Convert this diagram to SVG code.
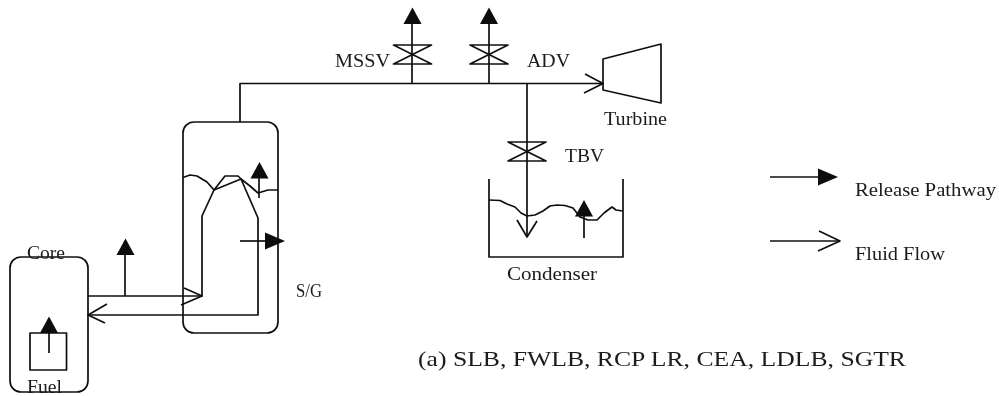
<svg xmlns="http://www.w3.org/2000/svg" width="999" height="396" viewBox="0 0 999 396">
<style>
.l{fill:none;stroke:#111;stroke-width:1.7;stroke-linejoin:round}
.h{fill:#0a0a0a;stroke:none}
text{font-family:"Liberation Serif","Times New Roman",serif;font-size:18px;fill:#1a1a1a}
</style>
<defs>
<filter id="soft" filterUnits="userSpaceOnUse" x="0" y="0" width="999" height="396"><feGaussianBlur stdDeviation="0.4"/></filter>
<path id="valve" class="l" d="M-19,-9.500H19L-19,9.500H19Z"/>
<path id="up" class="h" d="M0,-8.500 L9,8 H-9Z"/>
</defs>
<rect width="999" height="396" fill="#fff"/>
<g filter="url(#soft)">
<g id="connectors">
<path class="l" d="M240,122V83.500H603"/>
<path class="l" d="M585,74L603,83.500L584,93"/>
<path class="l" d="M412,84V24"/><use href="#up" x="412.500" y="16"/>
<path class="l" d="M489,84V24"/><use href="#up" x="489" y="16"/>
<path class="l" d="M527,84V237"/>
<path class="l" d="M517,220L527,237L537,221"/>
<path class="l" d="M88,296H202V216L214,190L225,176H238L241,179L258,218V315H88"/>
<path class="l" d="M184,288L202,296L181,305"/>
<path class="l" d="M107,304L88,315L105,323"/>
<path class="l" d="M125,296V255"/><use href="#up" x="125.500" y="247"/>
</g>
<g id="reactor-core">
<rect class="l" x="10" y="257" width="78" height="135" rx="11"/>
<rect class="l" x="30" y="333" width="36.500" height="37"/>
<path class="l" d="M49,353V333"/><use href="#up" x="49" y="325"/>
<text x="27" y="259" textLength="38" lengthAdjust="spacingAndGlyphs">Core</text>
<text x="27" y="393" textLength="35" lengthAdjust="spacingAndGlyphs">Fuel</text>
</g>
<g id="steam-generator">
<rect class="l" x="183" y="122" width="95" height="211" rx="11"/>
<path class="l" d="M183,177.500L190,175L197,176L207,182L214,190L241,179L250,186L258,193L268,190L278,190"/>
<path class="l" d="M259,198V178"/><use href="#up" x="259.500" y="170.500"/>
<path class="l" d="M240,241H266"/><path class="h" d="M265,232.500L285,241L265,249.500Z"/>
<text x="296" y="297" textLength="26" lengthAdjust="spacingAndGlyphs">S/G</text>
</g>
<g id="mssv"><use href="#valve" x="412.500" y="54.500"/><text x="335" y="67" textLength="55" lengthAdjust="spacingAndGlyphs">MSSV</text></g>
<g id="adv"><use href="#valve" x="489" y="54.500"/><text x="527" y="67" textLength="43" lengthAdjust="spacingAndGlyphs">ADV</text></g>
<g id="tbv"><use href="#valve" x="527" y="151.500"/><text x="565" y="162" textLength="39" lengthAdjust="spacingAndGlyphs">TBV</text></g>
<g id="turbine">
<path class="l" d="M603,59L661,44V103L603,90Z"/>
<text x="604" y="125" textLength="63" lengthAdjust="spacingAndGlyphs">Turbine</text>
</g>
<g id="condenser">
<path class="l" d="M489,179V257H623V179"/>
<path class="l" d="M489,200L500,200.500L507,204L515,207L521,213L527,216L535,215L543,211L550,206L557,205L565,205.500L573,208L580,217L588,220L597,220L604,213L612,207L616,210L623,211"/>
<path class="l" d="M584,238V216"/><use href="#up" x="584" y="208.500"/>
<text x="507" y="280" textLength="90" lengthAdjust="spacingAndGlyphs">Condenser</text>
</g>
<g id="legend-release">
<path class="l" d="M770,177H820"/><path class="h" d="M818,168.500L838,177L818,185.500Z"/>
<text x="855" y="196" textLength="141" lengthAdjust="spacingAndGlyphs">Release Pathway</text>
</g>
<g id="legend-flow">
<path class="l" d="M770,241H840"/><path class="l" d="M819,231L840,241L818,251"/>
<text x="855" y="260" textLength="90" lengthAdjust="spacingAndGlyphs">Fluid Flow</text>
</g>
<g id="caption">
<text x="418" y="366" textLength="488" lengthAdjust="spacingAndGlyphs" style="font-size:21px">(a) SLB, FWLB, RCP LR, CEA, LDLB, SGTR</text>
</g>
</g>
</svg>
